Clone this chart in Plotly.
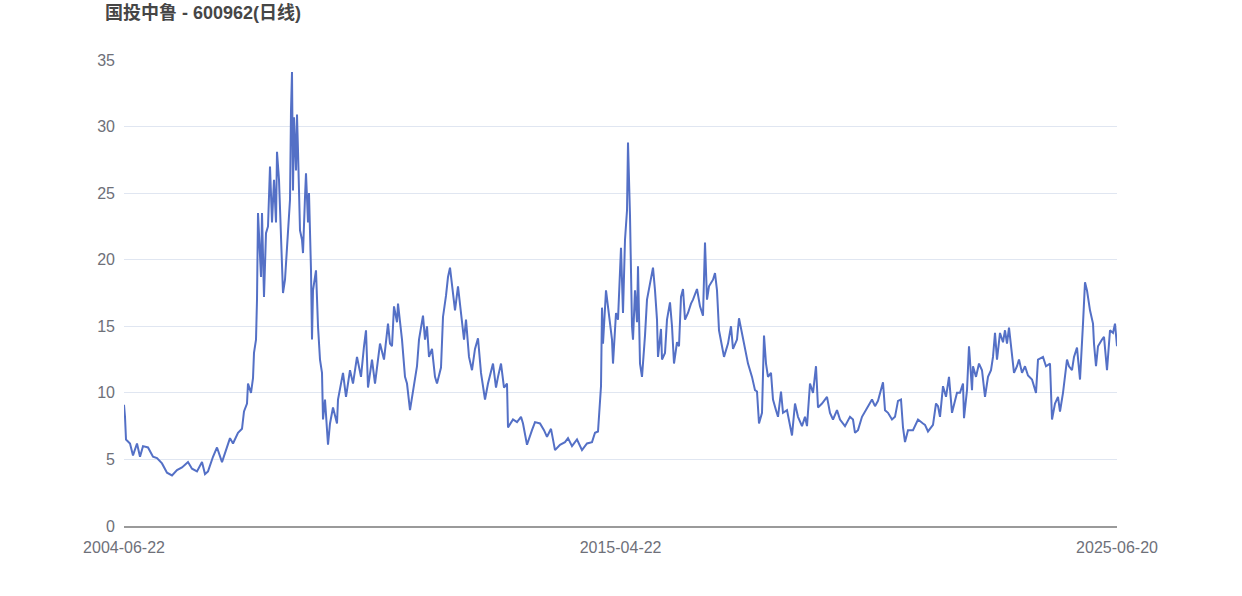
import plotly.graph_objects as go

title_text = "国投中鲁 - 600962(日线)"
tick_days = [0, 2483, 4965]
tick_labels = ["2004-06-22", "2015-04-22", "2025-06-20"]

trade_day = [0, 5, 10, 30, 45, 65, 80, 95, 120, 145, 165, 190, 215, 240, 265, 290, 320, 340, 365, 390,
             405, 420, 445, 465, 490, 505, 530, 545, 570, 590, 600, 615, 620, 635, 645, 650, 660, 665, 670, 685,
             690, 700, 710, 720, 730, 740, 750, 760, 765, 775, 790, 795, 805, 815, 830, 835, 840, 845, 850, 860,
             865, 870, 880, 890, 895, 905, 910, 920, 925, 935, 940, 945, 960, 970, 980, 990, 995, 1005, 1020, 1030,
             1045, 1065, 1070, 1095, 1110, 1130, 1145, 1165, 1185, 1200, 1210, 1220, 1240, 1255, 1280, 1300, 1320, 1330, 1340, 1350,
             1365, 1370, 1390, 1405, 1415, 1430, 1445, 1465, 1475, 1495, 1505, 1515, 1525, 1540, 1555, 1565, 1585, 1595, 1610, 1620,
             1630, 1645, 1655, 1670, 1690, 1700, 1710, 1725, 1740, 1755, 1770, 1785, 1805, 1820, 1845, 1860, 1870, 1885, 1900, 1915,
             1920, 1945, 1965, 1985, 1995, 2015, 2040, 2055, 2080, 2100, 2115, 2135, 2155, 2180, 2205, 2220, 2240, 2265, 2290, 2315,
             2340, 2355, 2370, 2385, 2390, 2395, 2410, 2420, 2440, 2445, 2460, 2470, 2485, 2495, 2505, 2515, 2520, 2530, 2540, 2545,
             2555, 2565, 2570, 2580, 2590, 2605, 2615, 2630, 2645, 2655, 2665, 2670, 2685, 2690, 2705, 2715, 2730, 2740, 2750, 2765,
             2775, 2785, 2795, 2805, 2820, 2835, 2845, 2865, 2880, 2895, 2905, 2915, 2925, 2945, 2955, 2965, 2975, 2990, 3000, 3020,
             3035, 3045, 3065, 3075, 3090, 3105, 3120, 3140, 3155, 3165, 3175, 3190, 3200, 3210, 3220, 3235, 3245, 3260, 3270, 3285,
             3295, 3315, 3325, 3340, 3355, 3370, 3390, 3405, 3415, 3430, 3445, 3460, 3470, 3490, 3515, 3530, 3545, 3565, 3580, 3605,
             3630, 3645, 3655, 3670, 3690, 3705, 3720, 3740, 3755, 3770, 3795, 3805, 3820, 3840, 3855, 3870, 3885, 3895, 3905, 3920,
             3945, 3970, 3995, 4005, 4020, 4045, 4060, 4070, 4080, 4095, 4110, 4125, 4140, 4165, 4180, 4195, 4200, 4215, 4225, 4240,
             4245, 4260, 4275, 4290, 4305, 4320, 4335, 4345, 4355, 4365, 4380, 4395, 4405, 4415, 4425, 4440, 4450, 4465, 4475, 4490,
             4505, 4520, 4540, 4560, 4570, 4595, 4610, 4630, 4640, 4655, 4670, 4680, 4695, 4715, 4725, 4740, 4750, 4765, 4780, 4795,
             4805, 4815, 4830, 4845, 4850, 4860, 4870, 4890, 4900, 4915, 4930, 4945, 4955, 4965]

close = [9.1, 8.2, 6.5, 6.2, 5.3, 6.2, 5.2, 6.0, 5.9, 5.2, 5.1, 4.7, 4.0, 3.8, 4.2, 4.4, 4.8, 4.3, 4.1, 4.8,
         3.9, 4.1, 5.2, 5.9, 4.8, 5.5, 6.6, 6.2, 7.0, 7.3, 8.6, 9.2, 10.7, 10.0, 11.1, 13.0, 14.0, 17.0, 23.5, 18.7,
         23.5, 17.2, 22.0, 22.5, 27.0, 22.8, 26.0, 22.8, 28.1, 26.0, 19.8, 17.5, 18.5, 21.0, 24.5, 31.2, 34.1, 25.2, 30.7, 26.7,
         30.9, 28.2, 22.2, 21.5, 20.5, 24.7, 26.5, 22.8, 25.0, 19.2, 14.0, 17.7, 19.2, 15.0, 12.5, 11.5, 8.0, 9.5, 6.1, 7.7,
         8.9, 7.7, 9.5, 11.5, 9.7, 11.7, 10.7, 12.7, 11.2, 13.5, 14.7, 10.4, 12.5, 10.7, 13.7, 12.5, 15.2, 13.7, 13.5, 16.5,
         15.3, 16.7, 14.0, 11.2, 10.7, 8.7, 10.2, 12.0, 14.0, 15.8, 14.0, 15.0, 12.7, 13.3, 11.2, 10.7, 11.9, 15.7, 17.3, 18.7,
         19.4, 17.7, 16.2, 18.0, 15.2, 14.0, 15.5, 12.7, 11.7, 13.3, 14.1, 11.5, 9.5, 10.7, 12.2, 10.4, 11.2, 12.2, 10.4, 10.7,
         7.4, 8.0, 7.8, 8.2, 7.7, 6.1, 7.2, 7.8, 7.7, 7.2, 6.7, 7.3, 5.7, 6.1, 6.3, 6.6, 6.0, 6.5, 5.7, 6.2,
         6.3, 7.0, 7.1, 10.5, 16.4, 13.7, 17.7, 16.5, 14.0, 12.2, 16.0, 15.5, 20.9, 16.0, 21.5, 23.7, 28.8, 23.3, 15.0, 14.0,
         17.7, 15.3, 19.5, 12.2, 11.2, 14.3, 17.0, 18.2, 19.4, 17.7, 15.5, 12.7, 14.8, 12.5, 13.0, 15.5, 16.8, 15.0, 12.2, 13.8,
         13.5, 17.2, 17.8, 15.5, 16.0, 16.7, 17.0, 17.8, 16.5, 15.8, 21.3, 17.0, 18.0, 18.5, 19.0, 17.7, 14.7, 13.5, 12.7, 13.7,
         15.0, 13.3, 14.0, 15.6, 14.5, 13.2, 12.2, 11.2, 10.2, 10.1, 7.7, 8.5, 14.3, 12.2, 11.2, 11.5, 9.5, 8.7, 8.2, 10.1,
         8.5, 8.7, 8.0, 6.8, 9.2, 8.2, 7.5, 8.2, 7.5, 10.7, 10.0, 12.0, 8.9, 9.2, 9.7, 8.5, 8.0, 8.7, 8.0, 7.5,
         8.2, 8.0, 7.0, 7.2, 8.2, 8.6, 9.0, 9.5, 9.0, 9.4, 10.8, 8.7, 8.5, 8.0, 8.2, 9.4, 9.5, 7.4, 6.3, 7.2,
         7.2, 8.0, 7.7, 7.6, 7.1, 7.6, 9.2, 9.0, 8.2, 10.5, 9.7, 11.2, 8.5, 10.0, 10.0, 10.7, 8.1, 10.2, 13.5, 10.2,
         12.0, 11.2, 12.2, 11.7, 9.7, 11.2, 11.7, 12.7, 14.5, 12.5, 14.5, 13.8, 14.7, 13.7, 14.9, 12.5, 11.5, 12.0, 12.5, 11.5,
         12.0, 11.3, 11.0, 10.0, 12.5, 12.7, 12.0, 12.2, 8.0, 9.2, 9.7, 8.6, 10.0, 12.5, 12.0, 11.7, 12.7, 13.4, 11.0, 15.2,
         18.3, 17.7, 16.2, 15.2, 13.7, 12.0, 13.5, 14.0, 14.2, 11.7, 14.7, 14.5, 15.2, 13.5]

axis_font = dict(family="Liberation Sans, Arial, sans-serif", size=16, color="#6e7079")

fig = go.Figure(
    go.Scatter(
        x=trade_day,
        y=close,
        mode="lines",
        line=dict(color="#5470c6", width=2),
        hoverinfo="y",
    )
)

fig.update_layout(
    width=1242,
    height=596,
    autosize=False,
    paper_bgcolor="white",
    plot_bgcolor="white",
    showlegend=False,
    margin=dict(l=124, r=125, t=60, b=70),
    title=dict(
        text=f"<b>{title_text}</b>",
        x=105 / 1242,
        xanchor="left",
        xref="container",
        y=1 - 13 / 596,
        yanchor="middle",
        yref="container",
        font=dict(family="Liberation Sans, Noto Sans CJK SC, sans-serif", size=18, color="#464646"),
    ),
)

fig.update_xaxes(
    range=[tick_days[0], tick_days[-1]],
    tickmode="array",
    tickvals=tick_days,
    ticktext=tick_labels,
    showgrid=False,
    zeroline=False,
    showline=True,
    linecolor="#9a9a9a",
    linewidth=2,
    ticks="",
    tickfont=axis_font,
    ticklabelstandoff=6,
)

fig.update_yaxes(
    range=[0, 35],
    tickmode="array",
    tickvals=[0, 5, 10, 15, 20, 25, 30, 35],
    showgrid=True,
    gridcolor="#e0e6f1",
    gridwidth=1,
    zeroline=False,
    showline=False,
    ticks="",
    tickfont=axis_font,
    ticklabelstandoff=8,
)

fig.write_html(
    "out.html",
    config={"displayModeBar": False},
    post_script="document.body.style.margin='0';document.body.style.padding='0';",
)
